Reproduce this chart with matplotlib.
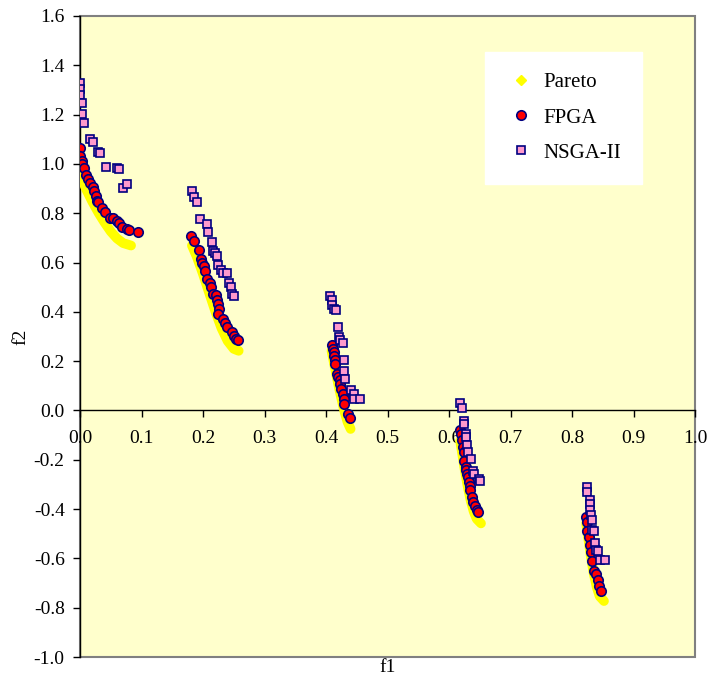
import matplotlib.pyplot as plt
from matplotlib.lines import Line2D
from matplotlib.patches import Rectangle

# Pareto front, five separate pieces
pareto_f1 = [
    [0.0, 0.005, 0.01, 0.02, 0.03, 0.04, 0.05, 0.06, 0.07, 0.083],
    [0.182, 0.19, 0.20, 0.21, 0.22, 0.23, 0.24, 0.25, 0.258],
    [0.409, 0.415, 0.42, 0.425, 0.43, 0.435, 0.44],
    [0.618, 0.62, 0.625, 0.63, 0.635, 0.64, 0.645, 0.652],
    [0.823, 0.826, 0.83, 0.835, 0.84, 0.845, 0.852],
]
pareto_f2 = [
    [1.0, 0.928, 0.897, 0.847, 0.802, 0.762, 0.726, 0.698, 0.679, 0.669],
    [0.669, 0.623, 0.553, 0.477, 0.402, 0.334, 0.282, 0.25, 0.242],
    [0.242, 0.167, 0.105, 0.048, -0.004, -0.047, -0.075],
    [-0.124, -0.152, -0.232, -0.303, -0.363, -0.409, -0.44, -0.458],
    [-0.458, -0.511, -0.582, -0.658, -0.715, -0.754, -0.773],
]

fpga_f1 = [0.0, 0.0, 0.003, 0.003, 0.0065, 0.009, 0.0135, 0.016, 0.021, 0.022,
           0.026, 0.028, 0.029, 0.036, 0.041, 0.049, 0.054, 0.060, 0.064, 0.068,
           0.077, 0.080, 0.095,
           0.180, 0.186, 0.193, 0.197, 0.199, 0.202, 0.2036, 0.206, 0.2106, 0.213,
           0.2155, 0.2215, 0.2226, 0.225, 0.226, 0.225, 0.232, 0.236, 0.239, 0.247,
           0.250, 0.254, 0.257,
           0.409, 0.411, 0.4126, 0.4137, 0.414, 0.415, 0.418, 0.4197, 0.422, 0.4235,
           0.425, 0.427, 0.429, 0.430, 0.435, 0.4386,
           0.618, 0.619, 0.6205, 0.6227, 0.624, 0.625, 0.627, 0.628, 0.630, 0.6314,
           0.6324, 0.634, 0.634, 0.637, 0.639, 0.6417, 0.645, 0.6477,
           0.8225, 0.824, 0.825, 0.828, 0.8295, 0.8306, 0.8333, 0.836, 0.8388, 0.8415,
           0.844, 0.847]
fpga_f2 = [1.066, 1.033, 1.012, 0.999, 0.982, 0.955, 0.939, 0.921, 0.908, 0.890,
           0.870, 0.851, 0.845, 0.820, 0.806, 0.782, 0.782, 0.768, 0.759, 0.745,
           0.736, 0.732, 0.725,
           0.709, 0.687, 0.650, 0.616, 0.599, 0.585, 0.566, 0.535, 0.515, 0.499,
           0.474, 0.467, 0.447, 0.430, 0.413, 0.390, 0.373, 0.356, 0.339, 0.318,
           0.302, 0.291, 0.285,
           0.264, 0.251, 0.237, 0.220, 0.203, 0.190, 0.149, 0.135, 0.122, 0.108,
           0.088, 0.068, 0.045, 0.027, -0.013, -0.031,
           -0.079, -0.095, -0.119, -0.149, -0.169, -0.206, -0.228, -0.241, -0.257, -0.271,
           -0.291, -0.305, -0.322, -0.352, -0.373, -0.386, -0.404, -0.413,
           -0.434, -0.454, -0.488, -0.515, -0.545, -0.576, -0.610, -0.650, -0.664, -0.688,
           -0.711, -0.732]

nsga_f1 = [0.0, 0.0, 0.0, 0.003, 0.003, 0.0065, 0.017, 0.021, 0.030, 0.033,
           0.043, 0.060, 0.064, 0.070, 0.077,
           0.182, 0.186, 0.191, 0.195, 0.206, 0.208, 0.214, 0.217, 0.220, 0.2225,
           0.224, 0.2296, 0.232, 0.239, 0.2416, 0.245, 0.247, 0.250,
           0.407, 0.410, 0.410, 0.4137, 0.416, 0.419, 0.421, 0.422, 0.427, 0.430,
           0.430, 0.4316, 0.441, 0.446, 0.446, 0.456,
           0.618, 0.6216, 0.624, 0.625, 0.627, 0.628, 0.630, 0.631, 0.635, 0.6395,
           0.6406, 0.649, 0.650,
           0.824, 0.824, 0.829, 0.829, 0.829, 0.8306, 0.832, 0.832, 0.835, 0.837,
           0.839, 0.8415, 0.846, 0.854]
nsga_f2 = [1.330, 1.305, 1.280, 1.247, 1.203, 1.165, 1.103, 1.087, 1.050, 1.043,
           0.989, 0.982, 0.978, 0.901, 0.919,
           0.892, 0.864, 0.846, 0.775, 0.755, 0.725, 0.684, 0.648, 0.637, 0.626,
           0.588, 0.569, 0.558, 0.556, 0.518, 0.501, 0.471, 0.463,
           0.463, 0.450, 0.427, 0.413, 0.409, 0.339, 0.296, 0.285, 0.274, 0.206,
           0.160, 0.129, 0.085, 0.068, 0.048, 0.048,
           0.030, 0.011, -0.043, -0.054, -0.095, -0.108, -0.142, -0.169, -0.196, -0.244,
           -0.257, -0.278, -0.287,
           -0.312, -0.332, -0.363, -0.379, -0.404, -0.424, -0.443, -0.485, -0.488, -0.539,
           -0.566, -0.572, -0.607, -0.607]

x_ticks = [0.0, 0.1, 0.2, 0.3, 0.4, 0.5, 0.6, 0.7, 0.8, 0.9, 1.0]
y_ticks = [-1.0, -0.8, -0.6, -0.4, -0.2, 0.0, 0.2, 0.4, 0.6, 0.8, 1.0, 1.2, 1.4, 1.6]

plt.rcParams['font.family'] = ['Liberation Serif', 'DejaVu Serif']

fig = plt.figure(figsize=(7.12, 6.79), dpi=100)
ax = fig.add_axes([80/712, 1 - 657/679, 615/712, 641/679])
ax.set_facecolor('#FFFFCC')

yellow = '#FFFF00'
for xs, ys in zip(pareto_f1, pareto_f2):
    ax.plot(xs, ys, '-', color=yellow, lw=7, solid_capstyle='round', zorder=3)

ax.plot(fpga_f1, fpga_f2, 'o', ms=6.8, mfc='#FF0000', mec='#000080', mew=1.2,
        linestyle='none', zorder=4)
ax.plot(nsga_f1, nsga_f2, 's', ms=6.2, mfc='#FF99CC', mec='#000080', mew=1.2,
        linestyle='none', zorder=5)

ax.set_xlim(0, 1)
ax.set_ylim(-1.0, 1.6)
ax.set_xticks(x_ticks)
ax.set_xticklabels(['%.1f' % v for v in x_ticks])
ax.set_yticks(y_ticks)
ax.set_yticklabels(['%.1f' % v for v in y_ticks])

# x axis drawn through f2 = 0, grey frame round the plot area
ax.spines['bottom'].set_position(('data', 0))
ax.spines['top'].set_visible(False)
ax.spines['right'].set_visible(False)
ax.spines['left'].set_linewidth(1.0)
ax.spines['bottom'].set_linewidth(1.0)
ax.add_patch(Rectangle((0, 0), 1, 1, transform=ax.transAxes, fill=False,
                       edgecolor='#808080', lw=1.5, zorder=1, clip_on=False))

ax.tick_params(axis='x', direction='out', length=5, width=1, pad=9, labelsize=14)
ax.tick_params(axis='y', direction='out', length=5, width=1, pad=6, labelsize=14)

ax.set_xlabel('f1', fontsize=14)
ax.xaxis.set_label_coords(0.5, -0.003)
ax.xaxis.label.set_va('top')
ax.set_ylabel('f2', fontsize=14)
ax.yaxis.set_label_coords(-0.083, 0.5)

handles = [
    Line2D([], [], marker='D', ms=5, color=yellow, linestyle='none'),
    Line2D([], [], marker='o', ms=6.8, mfc='#FF0000', mec='#000080', mew=1.2, linestyle='none'),
    Line2D([], [], marker='s', ms=6.2, mfc='#FF99CC', mec='#000080', mew=1.2, linestyle='none'),
]
leg = ax.legend(handles, ['Pareto', 'FPGA', 'NSGA-II'], loc='upper left',
                bbox_to_anchor=(0.659, 0.944), fontsize=15, frameon=True,
                fancybox=False, borderpad=1.0, labelspacing=0.75, handletextpad=0.4,
                handlelength=1.4, borderaxespad=0)
leg.get_frame().set_facecolor('white')
leg.get_frame().set_edgecolor('white')
leg.get_frame().set_alpha(1)

plt.savefig('out.png', dpi=100)
